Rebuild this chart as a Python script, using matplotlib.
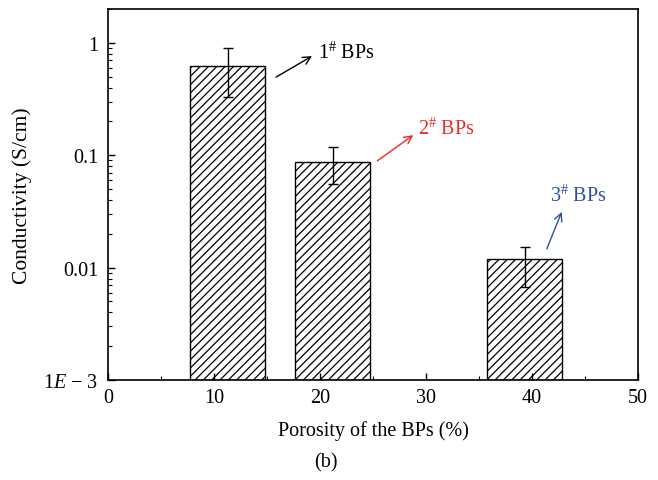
import matplotlib
matplotlib.use("Agg")
import matplotlib.pyplot as plt
from matplotlib.ticker import FixedLocator, LogLocator, NullFormatter

plt.rcParams['font.family'] = ['Liberation Serif', 'DejaVu Serif']
plt.rcParams['mathtext.fontset'] = 'custom'
plt.rcParams['mathtext.rm'] = 'Liberation Serif'
plt.rcParams['mathtext.it'] = 'Liberation Serif:italic'
plt.rcParams['hatch.linewidth'] = 0.9

# data
porosity = [11.3, 21.2, 39.3]
conductivity = [0.617, 0.0865, 0.0110]
cond_err = [0.29, 0.031, 0.0043]
labels = [r"1$^{\#}$ BPs", r"2$^{\#}$ BPs", r"3$^{\#}$ BPs"]
label_colors = ['black', '#ee2b2b', '#2f4fa0']
# arrow tail, arrow head, text position (data coords)
arrow_from = [(15.85, 0.495), (25.4, 0.089), (41.4, 0.0147)]
arrow_to = [(19.25, 0.762), (28.8, 0.151), (42.8, 0.0313)]
text_pos = [(19.8, 0.826), (29.2, 0.1745), (41.7, 0.0443)]

fig = plt.figure(figsize=(6.58, 4.81), dpi=100)
ax = fig.add_axes([108/658, 1 - 381/481, 530/658, 371/481])

ax.bar(porosity, conductivity, width=7.1, bottom=1e-3, color='white',
       edgecolor='black', hatch='////', linewidth=1.0)
ax.errorbar(porosity, conductivity, yerr=cond_err, fmt='none', ecolor='black',
            elinewidth=1.0, capsize=3.5, capthick=1.0)

for lab, col, a0, a1, tp in zip(labels, label_colors, arrow_from, arrow_to, text_pos):
    ax.annotate('', xy=a1, xytext=a0,
                arrowprops=dict(arrowstyle='->', color=col, lw=1.0,
                                mutation_scale=14, shrinkA=0, shrinkB=0))
    ax.text(tp[0], tp[1], lab, color=col, fontsize=14.5, va='center', ha='left')

ax.set_yscale('log')
ax.set_xlim(0, 50)
ax.set_ylim(1e-3, 2.0)
ax.xaxis.set_major_locator(FixedLocator([0, 10, 20, 30, 40, 50]))
ax.xaxis.set_minor_locator(FixedLocator([5, 15, 25, 35, 45]))
ax.yaxis.set_major_locator(FixedLocator([1e-3, 1e-2, 1e-1, 1]))
ax.set_yticklabels([r"1$\mathit{E}$ − 3", "0.01", "0.1", "1"])
ax.yaxis.set_minor_locator(LogLocator(base=10, subs=range(2, 10)))
ax.yaxis.set_minor_formatter(NullFormatter())

ax.tick_params(which='both', direction='in', top=False, right=False, labelsize=14.5)
ax.tick_params(axis='y', pad=7)
ax.tick_params(axis='x', pad=6)
ax.tick_params(which='major', length=5, width=1.0)
ax.tick_params(which='minor', length=3, width=0.8)
for s in ax.spines.values():
    s.set_linewidth(1.2)

ax.set_xlabel("Porosity of the BPs (%)", fontsize=14.5, labelpad=9)
ax.set_ylabel("Conductivity (S/cm)", fontsize=15.5, labelpad=8)
fig.text(326/658, 1 - 463/481, "(b)", fontsize=14.5, ha='center', va='center')

fig.savefig("out.png", dpi=100)
